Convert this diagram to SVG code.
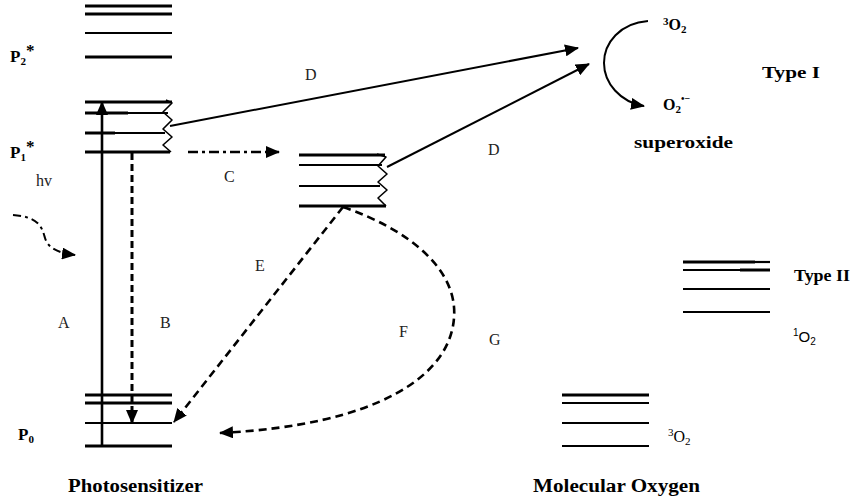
<svg xmlns="http://www.w3.org/2000/svg" width="866" height="501" viewBox="0 0 866 501">
<defs>
<marker id="ah" markerUnits="userSpaceOnUse" markerWidth="14" markerHeight="12" refX="13" refY="6" orient="auto">
<path d="M0,0 L14,6 L0,12 z" fill="#000"/>
</marker>
<style>
.lv{stroke:#000;stroke-width:2.2;fill:none}
.lvt{stroke:#000;stroke-width:3;fill:none}
.w{stroke:#000;stroke-width:1.6;fill:none;stroke-linejoin:round}
text{font-family:'Liberation Serif','Times New Roman','DejaVu Serif',serif}
.lbl{font-size:16px;fill:#222}
.b{font-size:16px;font-weight:bold;fill:#000}
.c{stroke:#000;fill:none}
</style>
</defs>
<rect width="866" height="501" fill="#fff"/>

<g id="P2star">
<line class="lvt" x1="85" y1="6" x2="172" y2="6"/>
<line class="lvt" x1="85" y1="14" x2="172" y2="14"/>
<line class="lv" x1="85" y1="33" x2="172" y2="33"/>
<line class="lvt" x1="85" y1="57" x2="172" y2="57"/>
<text class="b" x="10" y="62" style="font-size:17px">P<tspan style="font-size:11px" dy="3">2</tspan><tspan dy="-9">*</tspan></text>
</g>

<g id="P1star">
<line class="lvt" x1="85" y1="102" x2="172" y2="102"/>
<line class="lvt" x1="85" y1="113" x2="128" y2="113"/>
<line class="lv" x1="128" y1="113" x2="168" y2="113"/>
<line class="lvt" x1="85" y1="133" x2="115" y2="133"/>
<line class="lv" x1="115" y1="133" x2="165" y2="133"/>
<line class="lvt" x1="85" y1="152" x2="170" y2="152"/>
<path class="w" d="M166,100 L172,103 L163,112 L172,120 L163,129 L172,137 L163,145 L171,152"/>
<text class="b" x="10" y="158" style="font-size:17px">P<tspan style="font-size:11px" dy="3">1</tspan><tspan dy="-9">*</tspan></text>
</g>

<g id="P0">
<line class="lvt" x1="85" y1="395" x2="172" y2="395"/>
<line class="lvt" x1="85" y1="403" x2="172" y2="403"/>
<line class="lv" x1="85" y1="423" x2="172" y2="423"/>
<line class="lvt" x1="85" y1="446" x2="172" y2="446"/>
<text class="b" x="18" y="440" style="font-size:17px">P<tspan style="font-size:11px" dy="3">0</tspan></text>
</g>

<g id="triplet">
<line class="lvt" x1="299" y1="155" x2="385" y2="155"/>
<line class="lv" x1="299" y1="165" x2="382" y2="165"/>
<line class="lv" x1="299" y1="186" x2="380" y2="186"/>
<line class="lvt" x1="299" y1="206" x2="386" y2="206"/>
<path class="w" d="M377,154 L386,157 L378,166 L387,174 L378,182 L387,190 L378,198 L386,206"/>
</g>

<g id="singletO2">
<line class="lvt" x1="683" y1="262" x2="755" y2="262"/>
<line class="lv" x1="755" y1="262" x2="770" y2="262"/>
<line class="lv" x1="683" y1="270" x2="740" y2="270"/>
<line class="lvt" x1="740" y1="270" x2="770" y2="270"/>
<line class="lv" x1="683" y1="289" x2="770" y2="289"/>
<line class="lv" x1="683" y1="312" x2="770" y2="312"/>
<text class="b" x="794" y="281" style="font-size:17px" textLength="56" lengthAdjust="spacingAndGlyphs">Type II</text>
<text x="793" y="342" style="font-family:'Liberation Sans',Arial,sans-serif;font-size:15px"><tspan style="font-size:10px" dy="-6">1</tspan><tspan dy="6">O</tspan><tspan style="font-size:10px" dy="3">2</tspan></text>
</g>

<g id="tripletO2">
<line class="lvt" x1="562" y1="395" x2="649" y2="395"/>
<line class="lv" x1="562" y1="403" x2="649" y2="403"/>
<line class="lv" x1="562" y1="423" x2="649" y2="423"/>
<line class="lv" x1="562" y1="446" x2="649" y2="446"/>
<text x="668" y="442" style="font-size:16px"><tspan style="font-size:11px" dy="-6">3</tspan><tspan dy="6">O</tspan><tspan style="font-size:11px" dy="3">2</tspan></text>
</g>

<g id="typeI">
<text class="b" x="663" y="30"><tspan style="font-size:11px" dy="-5">3</tspan><tspan dy="5">O</tspan><tspan style="font-size:11px" dy="3">2</tspan></text>
<text class="b" x="663" y="110">O<tspan style="font-size:11px" dy="3">2</tspan><tspan style="font-size:10px" dy="-11">•−</tspan></text>
<text class="b" x="634" y="148" style="font-size:17px" textLength="99" lengthAdjust="spacingAndGlyphs">superoxide</text>
<text class="b" x="762" y="78" style="font-size:17px" textLength="58" lengthAdjust="spacingAndGlyphs">Type I</text>
<path class="c" stroke-width="2" d="M648,21 C620,23 604,43 604,63 C604,83 620,102 644,106" marker-end="url(#ah)"/>
</g>

<g id="labels">
<text class="b" x="68" y="492" style="font-size:18px" textLength="135" lengthAdjust="spacingAndGlyphs">Photosensitizer</text>
<text class="b" x="533" y="492" style="font-size:18px" textLength="167" lengthAdjust="spacingAndGlyphs">Molecular Oxygen</text>
<text class="lbl" x="36" y="186">hv</text>
<text class="lbl" x="58" y="328">A</text>
<text class="lbl" x="160" y="328">B</text>
<text class="lbl" x="224" y="182">C</text>
<text class="lbl" x="305" y="80">D</text>
<text class="lbl" x="488" y="155">D</text>
<text class="lbl" x="255" y="271">E</text>
<text class="lbl" x="399" y="337">F</text>
<text class="lbl" x="489" y="345">G</text>
</g>

<g id="connectors">
<line class="c" stroke-width="2.6" x1="102" y1="446" x2="102" y2="102" marker-end="url(#ah)"/>
<line class="c" stroke-width="3" stroke-dasharray="7,4" x1="132" y1="153" x2="132" y2="423" marker-end="url(#ah)"/>
<line class="c" stroke-width="2.4" stroke-dasharray="10,4,3,4" x1="188" y1="152" x2="279" y2="152" marker-end="url(#ah)"/>
<line class="c" stroke-width="2" x1="170" y1="126" x2="578" y2="48" marker-end="url(#ah)"/>
<line class="c" stroke-width="2" x1="387" y1="167" x2="589" y2="64" marker-end="url(#ah)"/>
<line class="c" stroke-width="2.6" stroke-dasharray="8,5" x1="343" y1="207" x2="174" y2="422" marker-end="url(#ah)"/>
<path class="c" stroke-width="2.6" stroke-dasharray="8,5" d="M343,207 C410,230 458,270 454,318 C450,375 380,425 220,433" marker-end="url(#ah)"/>
<path class="c" stroke-width="2" stroke-dasharray="8,4,3,4" d="M13,215 C40,217 42,228 45,238 C48,248 58,253 75,255" marker-end="url(#ah)"/>
</g>
</svg>
